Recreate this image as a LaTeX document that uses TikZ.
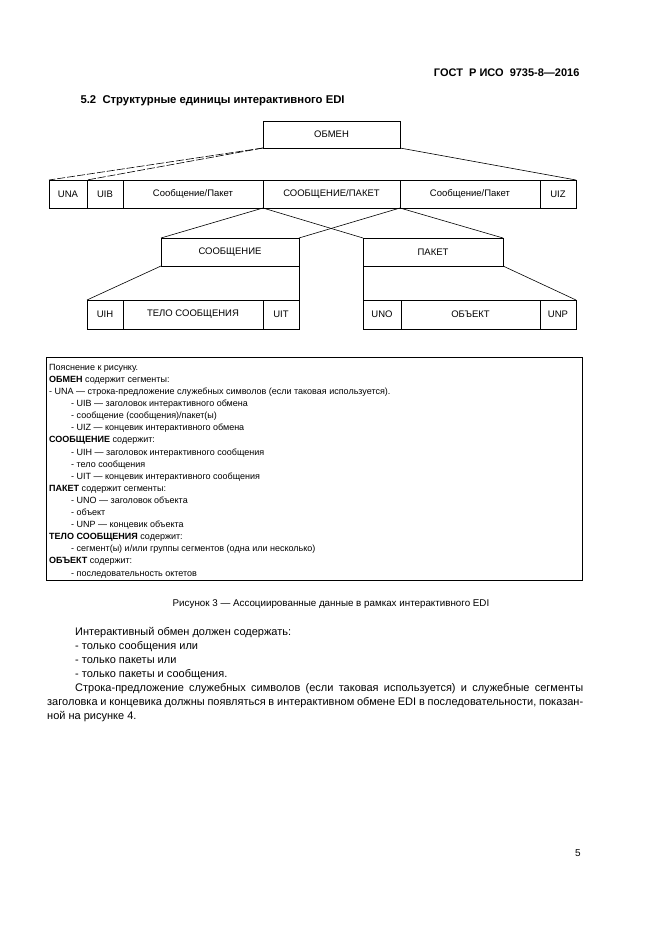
\documentclass[tikz,border=0pt]{standalone}
\usepackage{fontspec}
\setmainfont{Liberation Sans}
\usepackage{tikz}
\usetikzlibrary{positioning}

\tikzset{
    seg/.style={draw, rectangle, line width=0.7pt, inner sep=0pt, outer sep=0pt,
        minimum height=28, font=\fontsize{9.5}{11}\selectfont},
    link/.style={line width=0.6pt},
    notetext/.style={inner sep=0pt, align=left, font=\fontsize{9}{12.1}\selectfont}
}

\begin{document}
\begin{tikzpicture}[x=1pt, y=-1pt]
        \useasboundingbox (0,0) rectangle (661,936);

        \draw (583,73) node[anchor=east, font=\fontsize{11}{13}\selectfont\bfseries](gost){ГОСТ\ \ Р ИСО\ \ 9735-8---2016};
        \draw (77,101) node[anchor=west, font=\fontsize{11.3}{13}\selectfont\bfseries](title){5.2\ \ Структурные единицы интерактивного EDI};

        \draw (331.5,134.5) node[seg, minimum width=137, minimum height=27](obmen){ОБМЕН};

        \draw (68,194) node[seg, minimum width=38](una){UNA};
        \draw (105,194) node[seg, minimum width=36](uib){UIB};
        \draw (193,194) node[seg, minimum width=140](msgl){Сообщение/Пакет};
        \draw (331.5,194) node[seg, minimum width=137](msgmid){СООБЩЕНИЕ/ПАКЕТ};
        \draw (470,194) node[seg, minimum width=140](msgr){Сообщение/Пакет};
        \draw (558,194) node[seg, minimum width=36](uiz){UIZ};

        \draw (230,252) node[seg, minimum width=138](soob){СООБЩЕНИЕ};
        \draw (433,252) node[seg, minimum width=140](paket){ПАКЕТ};

        \draw (105,314.5) node[seg, minimum width=36, minimum height=29](uih){UIH};
        \draw (193,314.5) node[seg, minimum width=140, minimum height=29](telo){ТЕЛО СООБЩЕНИЯ};
        \draw (281,314.5) node[seg, minimum width=36, minimum height=29](uit){UIT};
        \draw (382,314.5) node[seg, minimum width=38, minimum height=29](uno){UNO};
        \draw (470.5,314.5) node[seg, minimum width=139, minimum height=29](obj){ОБЪЕКТ};
        \draw (558,314.5) node[seg, minimum width=36, minimum height=29](unp){UNP};

        \draw[link, dash pattern=on 8pt off 2pt] (obmen.south west) -- (una.north west);
        \draw[link, dash pattern=on 8pt off 2pt] (obmen.south west) -- (uib.north west);
        \draw[link] (obmen.south east) -- (uiz.north east);

        \draw[link] (msgmid.south west) -- (soob.north west);
        \draw[link] (msgmid.south west) -- (paket.north west);
        \draw[link] (msgmid.south east) -- (soob.north east);
        \draw[link] (msgmid.south east) -- (paket.north east);

        \draw[link] (soob.south west) -- (uih.north west);
        \draw[link] (soob.south east) -- (uit.north east);
        \draw[link] (paket.south west) -- (uno.north west);
        \draw[link] (paket.south east) -- (unp.north east);

        \draw (46,357) node[draw, line width=0.8pt, anchor=north west, inner sep=0pt, outer sep=0pt,
            minimum width=536, minimum height=223](notebox){};
        \draw ([xshift=3pt, yshift=-7pt]notebox.north west) node[notetext, anchor=north west](notes){%
            Пояснение к рисунку.\\
            \textbf{ОБМЕН} содержит сегменты:\\
            - UNA --- строка-предложение служебных символов (если таковая используется).\\
            \hspace*{22pt}- UIB --- заголовок интерактивного обмена\\
            \hspace*{22pt}- сообщение (сообщения)/пакет(ы)\\
            \hspace*{22pt}- UIZ --- концевик интерактивного обмена\\
            \textbf{СООБЩЕНИЕ} содержит:\\
            \hspace*{22pt}- UIH --- заголовок интерактивного сообщения\\
            \hspace*{22pt}- тело сообщения\\
            \hspace*{22pt}- UIT --- концевик интерактивного сообщения\\
            \textbf{ПАКЕТ} содержит сегменты:\\
            \hspace*{22pt}- UNO --- заголовок объекта\\
            \hspace*{22pt}- объект\\
            \hspace*{22pt}- UNP --- концевик объекта\\
            \textbf{ТЕЛО СООБЩЕНИЯ} содержит:\\
            \hspace*{22pt}- сегмент(ы) и/или группы сегментов (одна или несколько)\\
            \textbf{ОБЪЕКТ} содержит:\\
            \hspace*{22pt}- последовательность октетов};

        \draw (331,604) node[font=\fontsize{9.8}{11}\selectfont](caption){Рисунок 3 --- Ассоциированные данные в рамках интерактивного EDI};

        \draw (47,627) node[anchor=north west, inner sep=0pt, text width=536pt, align=justify,
            font=\fontsize{11}{14}\selectfont](body){%
            \setlength{\parskip}{0pt}%
            \hspace*{28pt}Интерактивный обмен должен содержать:\par
            \hspace*{28pt}- только сообщения или\par
            \hspace*{28pt}- только пакеты или\par
            \hspace*{28pt}- только пакеты и сообщения.\par
            \hspace*{28pt}Строка-предложение служебных символов (если таковая используется) и служебные сегменты\linebreak
            заголовка и концевика должны появляться в интерактивном обмене EDI в последовательности, показан-\linebreak
            ной на рисунке 4.};

        \draw (578,853) node[font=\fontsize{10}{12}\selectfont](pagenum){5};
    \end{tikzpicture}
\end{document}
